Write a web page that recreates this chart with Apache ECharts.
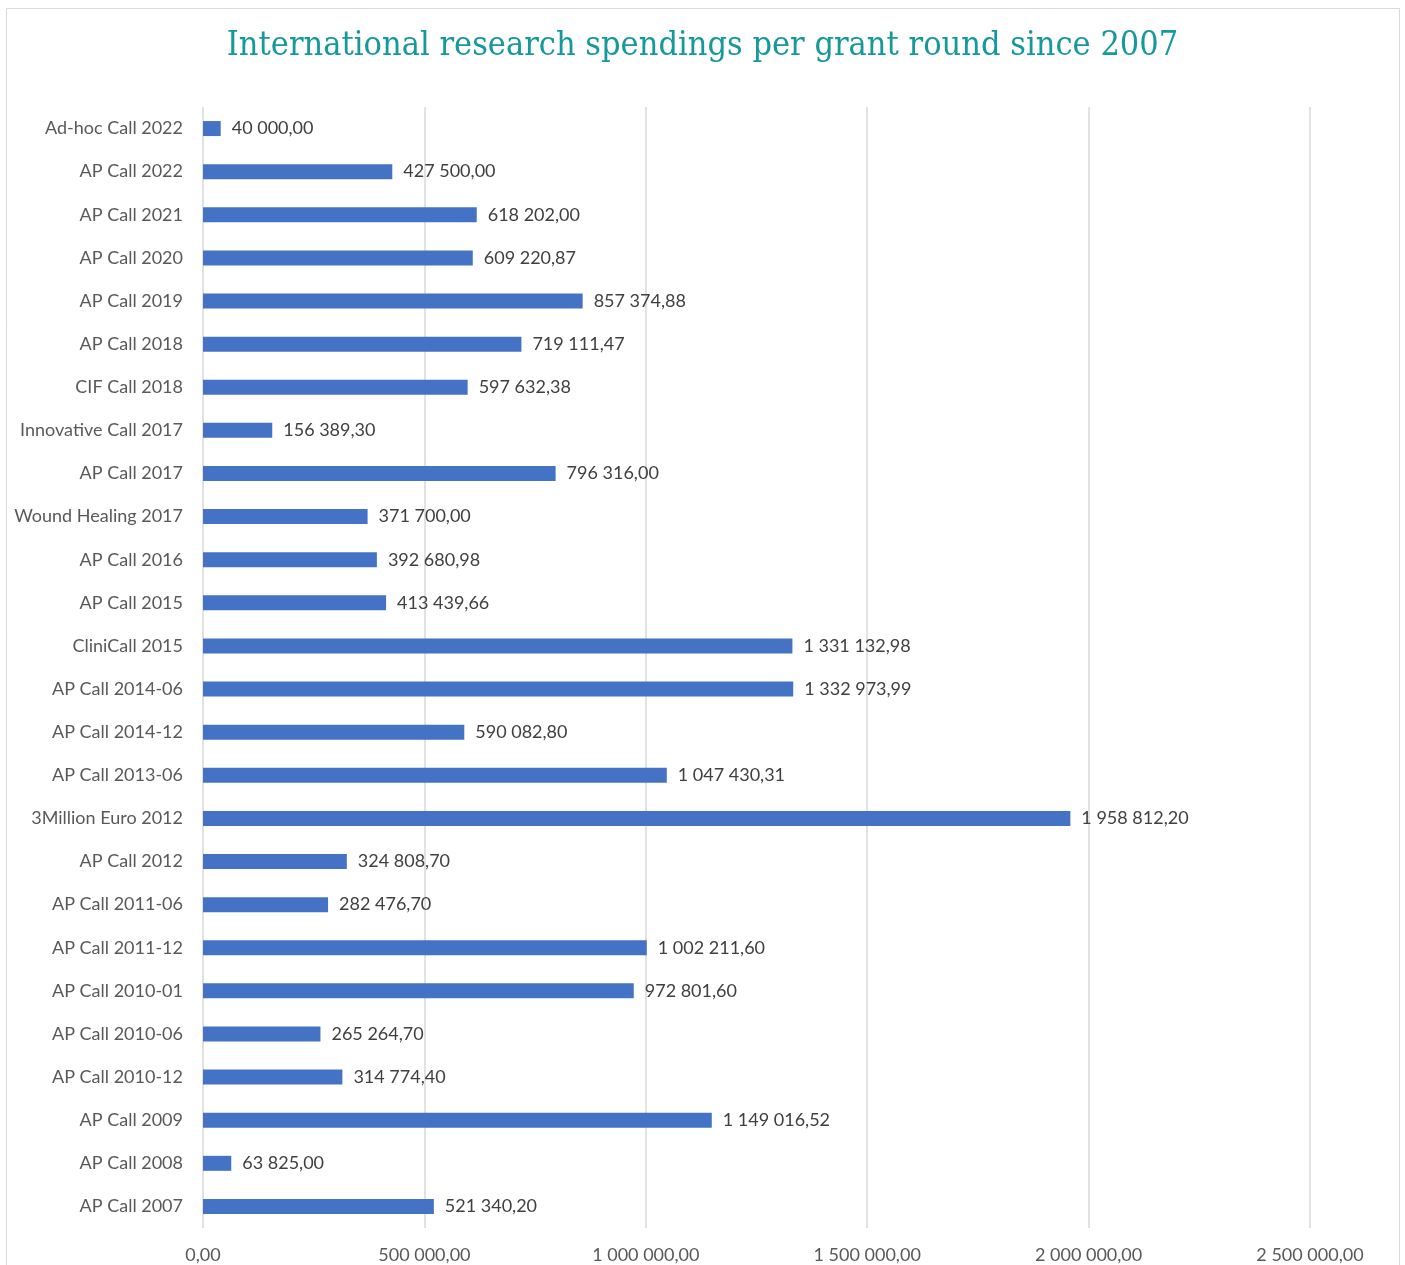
<!DOCTYPE html>
<html>
<head>
<meta charset="utf-8">
<script src="https://cdn.jsdelivr.net/npm/echarts@6/dist/echarts.min.js"></script>
<style>
  html, body { margin: 0; padding: 0; background: #fff; }
  #chart { width: 1405px; height: 1265px; }
</style>
</head>
<body>
<div id="chart"></div>
<script>
// grant rounds, top to bottom as shown
var categories = [
    'Ad-hoc Call 2022', 'AP Call 2022', 'AP Call 2021', 'AP Call 2020', 'AP Call 2019',
    'AP Call 2018', 'CIF Call 2018', 'Innovative Call 2017', 'AP Call 2017', 'Wound Healing 2017',
    'AP Call 2016', 'AP Call 2015', 'CliniCall 2015', 'AP Call 2014-06', 'AP Call 2014-12',
    'AP Call 2013-06', '3Million Euro 2012', 'AP Call 2012', 'AP Call 2011-06', 'AP Call 2011-12',
    'AP Call 2010-01', 'AP Call 2010-06', 'AP Call 2010-12', 'AP Call 2009', 'AP Call 2008',
    'AP Call 2007'
];
var spendings = [
    40000.00, 427500.00, 618202.00, 609220.87, 857374.88,
    719111.47, 597632.38, 156389.30, 796316.00, 371700.00,
    392680.98, 413439.66, 1331132.98, 1332973.99, 590082.80,
    1047430.31, 1958812.20, 324808.70, 282476.70, 1002211.60,
    972801.60, 265264.70, 314774.40, 1149016.52, 63825.00,
    521340.20
];
var xTicks = [0, 500000, 1000000, 1500000, 2000000, 2500000];

function fmt(v) {
    var parts = Number(v).toFixed(2).split('.');
    var intPart = parts[0].replace(/\B(?=(\d{3})+(?!\d))/g, ' ');
    return intPart + ',' + parts[1];
}

var myChart = echarts.init(document.getElementById('chart'));
var option = {
    backgroundColor: '#ffffff',
    animation: false,
    title: {
        text: 'International research spendings per grant round since 2007',
        left: 'center',
        top: 24,
        textStyle: {
            fontFamily: 'DejaVu Serif Condensed',
            fontWeight: 'normal',
            fontSize: 34,
            color: '#17989a'
        }
    },
    graphic: [{
        type: 'rect',
        shape: { x: 6.5, y: 8.5, width: 1393, height: 1280 },
        style: { fill: 'none', stroke: '#d9d9d9', lineWidth: 1 },
        silent: true
    }],
    grid: {
        left: 203,
        right: 95,
        top: 107,
        bottom: 37,
        containLabel: false
    },
    xAxis: {
        type: 'value',
        min: xTicks[0],
        max: xTicks[xTicks.length - 1],
        interval: xTicks[1] - xTicks[0],
        axisLine: { show: false },
        axisTick: { show: false },
        splitLine: { lineStyle: { color: '#d9d9d9', width: 1.5 } },
        axisLabel: {
            formatter: fmt,
            margin: 18,
            fontFamily: 'Lato',
            fontSize: 18,
            color: '#595959'
        }
    },
    yAxis: {
        type: 'category',
        data: categories,
        inverse: true,
        axisLine: { show: false },
        axisTick: { show: false },
        axisLabel: {
            margin: 20,
            fontFamily: 'Lato',
            fontSize: 18,
            color: '#595959'
        }
    },
    series: [{
        type: 'bar',
        data: spendings,
        barWidth: 15,
        itemStyle: { color: '#4472c4' },
        label: {
            show: true,
            position: 'right',
            distance: 11,
            formatter: function (p) { return fmt(p.value); },
            fontFamily: 'Lato',
            fontSize: 18,
            color: '#404040'
        }
    }]
};
myChart.setOption(option);
</script>
</body>
</html>
